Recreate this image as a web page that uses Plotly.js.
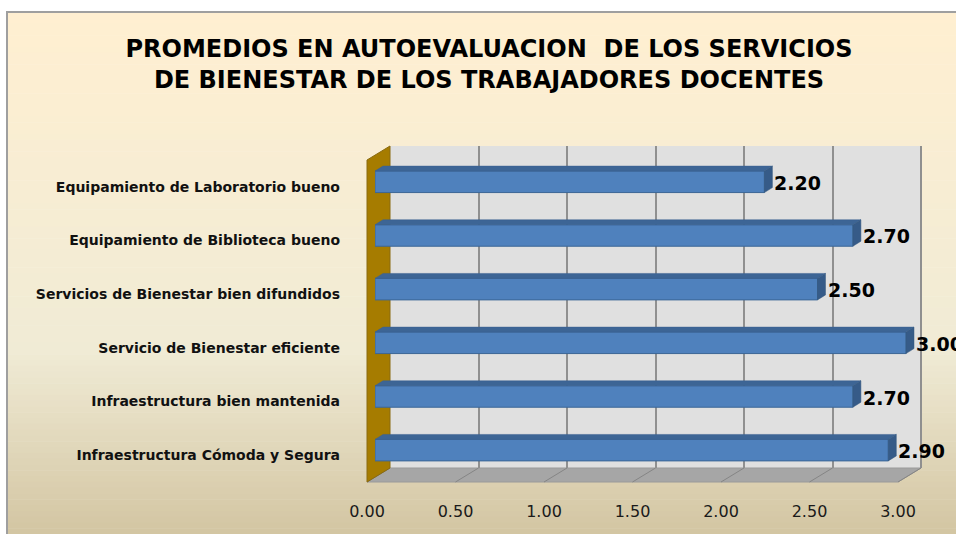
<!DOCTYPE html>
<html><head><meta charset="utf-8">
<script src="https://cdn.plot.ly/plotly-3.0.1.min.js"></script>
<style>html,body{margin:0;padding:0;background:#fff;}#chart{width:956px;height:534px;}</style>
</head><body><div id="chart"></div>
<script>
// ---- data (bottom to top) ----
const categories = [
  'Infraestructura Cómoda y Segura',
  'Infraestructura bien mantenida',
  'Servicio de Bienestar eficiente',
  'Servicios de Bienestar bien difundidos',
  'Equipamiento de Biblioteca bueno',
  'Equipamiento de Laboratorio bueno'
];
const values = [2.90, 2.70, 3.00, 2.50, 2.70, 2.20];
const xTicks = [0, 0.5, 1, 1.5, 2, 2.5, 3];
const titleText = 'PROMEDIOS EN AUTOEVALUACION \u00a0DE LOS SERVICIOS<br>DE BIENESTAR DE LOS TRABAJADORES DOCENTES';

// ---- layout geometry (pixels) ----
const W = 956, H = 534;
const XMAX = 3;
const px = v => v / W;
const py = v => 1 - v / H;
const back  = {x0: 390, x1: 921, yTop: 146, yBot: 468};
const bars  = {x0: 375, x1: 906, yTop: 155, yBot: 477};
const front = {x0: 367, x1: 898, yTop: 160, yBot: 482};
const pxPerUnit = (bars.x1 - bars.x0) / XMAX;
const XMAX2 = (W - bars.x0) / pxPerUnit;   // bar plane extended to page edge so 3D faces aren't clipped
const yRange = [-0.5, categories.length - 0.5];
const idx = categories.map((c, i) => i);
const barWidth = 0.40;
const depthX = 8 / pxPerUnit;
const depthY = 5 / ((bars.yBot - bars.yTop) / (yRange[1] - yRange[0]));

const shapes = [];
// background gradient (Parchment)
const stops = [[12, [255, 239, 209]], [352, [240, 235, 213]], [545, [209, 195, 159]]];
function colAt(y) {
  for (let k = 0; k < stops.length - 1; k++) {
    const [ya, ca] = stops[k], [yb, cb] = stops[k + 1];
    if (y <= yb) {
      const t = Math.max(0, (y - ya) / (yb - ya));
      return 'rgb(' + ca.map((c, j) => Math.round(c + (cb[j] - c) * t)).join(',') + ')';
    }
  }
  return 'rgb(209,195,159)';
}
const nb = 90;
for (let k = 0; k < nb; k++) {
  const ya = 12 + (H - 12) * k / nb, yb = 12 + (H - 12) * (k + 1) / nb + 0.6;
  shapes.push({type: 'rect', xref: 'paper', yref: 'paper', layer: 'below',
    x0: px(7), x1: 1.01, y0: py(yb), y1: py(ya),
    fillcolor: colAt((ya + yb) / 2), line: {width: 0}});
}
// border
shapes.push({type: 'path', xref: 'paper', yref: 'paper', layer: 'below',
  path: `M ${px(7)} ${py(H + 5)} L ${px(7)} ${py(12)} L ${px(W + 5)} ${py(12)}`,
  line: {color: '#9f9f9f', width: 2}});
// back wall
shapes.push({type: 'rect', xref: 'paper', yref: 'paper', layer: 'below',
  x0: px(back.x0), x1: px(back.x1), y0: py(back.yBot), y1: py(back.yTop),
  fillcolor: '#e0e0e0', line: {width: 0}});
// floor
shapes.push({type: 'path', xref: 'paper', yref: 'paper', layer: 'below',
  path: `M ${px(back.x0)} ${py(back.yBot)} L ${px(back.x1)} ${py(back.yBot)} L ${px(front.x1)} ${py(front.yBot)} L ${px(front.x0)} ${py(front.yBot)} Z`,
  fillcolor: '#a6a6a6', line: {color: '#9a9a9a', width: 1}});
// floor grid diagonals
xTicks.forEach(v => {
  const bx = back.x0 + v / XMAX * (back.x1 - back.x0);
  const fx = front.x0 + v / XMAX * (front.x1 - front.x0);
  shapes.push({type: 'line', xref: 'paper', yref: 'paper', layer: 'below',
    x0: px(bx), y0: py(back.yBot), x1: px(fx), y1: py(front.yBot),
    line: {color: '#858585', width: 1}});
});
// back wall right edge
shapes.push({type: 'line', xref: 'paper', yref: 'paper', layer: 'below',
  x0: px(back.x1), x1: px(back.x1), y0: py(back.yBot), y1: py(back.yTop),
  line: {color: '#8f8f8f', width: 2}});
// left wall
shapes.push({type: 'path', xref: 'paper', yref: 'paper', layer: 'below',
  path: `M ${px(front.x0)} ${py(front.yTop)} L ${px(back.x0)} ${py(back.yTop)} L ${px(back.x0)} ${py(back.yBot)} L ${px(front.x0)} ${py(front.yBot)} Z`,
  fillcolor: '#a67c00', line: {color: '#8a6a10', width: 1}});

// 3D faces of bars
values.forEach((v, i) => {
  const yt = i + barWidth / 2, yb = i - barWidth / 2;
  shapes.push({type: 'path', xref: 'x2', yref: 'y2', layer: 'above',
    path: `M 0 ${yt} L ${v} ${yt} L ${v + depthX} ${yt + depthY} L ${depthX} ${yt + depthY} Z`,
    fillcolor: '#3d6595', line: {color: '#3a6190', width: 0.5}});
  shapes.push({type: 'path', xref: 'x2', yref: 'y2', layer: 'above',
    path: `M ${v} ${yb} L ${v} ${yt} L ${v + depthX} ${yt + depthY} L ${v + depthX} ${yb + depthY} Z`,
    fillcolor: '#365b88', line: {color: '#34587f', width: 0.5}});
});

const annotations = values.map((v, i) => ({
  x: v, y: i, xref: 'x2', yref: 'y2', text: v.toFixed(2), showarrow: false,
  xanchor: 'left', yanchor: 'middle', xshift: 8, yshift: -1,
  font: {family: 'DejaVu Sans', size: 19, weight: 'bold', color: '#000'}
}));

const traces = [
  {type: 'scatter', x: [], y: [], xaxis: 'x', yaxis: 'y', hoverinfo: 'skip', showlegend: false},
  {type: 'bar', orientation: 'h', x: values, y: idx, xaxis: 'x2', yaxis: 'y2', width: barWidth,
   marker: {color: '#4f81bd', line: {color: '#3b6696', width: 1}}, hoverinfo: 'skip', showlegend: false},
  {type: 'scatter', x: [], y: [], xaxis: 'x3', yaxis: 'y3', hoverinfo: 'skip', showlegend: false}
];

const hidden = {showgrid: false, showticklabels: false, zeroline: false, showline: false, ticks: ''};
const layout = {
  width: W, height: H,
  margin: {l: 0, r: 0, t: 0, b: 0, pad: 0},
  paper_bgcolor: '#ffffff', plot_bgcolor: 'rgba(0,0,0,0)',
  showlegend: false,
  title: {text: titleText, x: px(489), xanchor: 'center', xref: 'paper',
    y: 1 - 57 / H, yanchor: 'middle', yref: 'container',
    font: {family: 'DejaVu Sans', size: 24, weight: 'bold', color: '#000'}},
  xaxis: Object.assign({}, hidden, {domain: [px(back.x0), px(back.x1)], range: [0, XMAX], anchor: 'y',
    showgrid: true, gridcolor: '#909090', gridwidth: 2, tickmode: 'array', tickvals: xTicks}),
  yaxis: Object.assign({}, hidden, {domain: [py(back.yBot), py(back.yTop)], range: yRange, anchor: 'x'}),
  xaxis2: Object.assign({}, hidden, {domain: [px(bars.x0), 1], range: [0, XMAX2], anchor: 'y2'}),
  yaxis2: Object.assign({}, hidden, {domain: [py(bars.yBot), py(bars.yTop)], range: yRange, anchor: 'x2'}),
  xaxis3: Object.assign({}, hidden, {domain: [px(front.x0), px(front.x1)], range: [0, XMAX], anchor: 'y3',
    showticklabels: true, tickmode: 'array', tickvals: xTicks, tickformat: '.2f', ticklabelstandoff: 18,
    tickfont: {family: 'DejaVu Sans', size: 16, color: '#1a1a1a'}}),
  yaxis3: Object.assign({}, hidden, {domain: [py(front.yBot), py(front.yTop)], range: yRange, anchor: 'x3',
    showticklabels: true, tickmode: 'array', tickvals: idx, ticktext: categories, ticklabelstandoff: 26,
    tickfont: {family: 'DejaVu Sans', size: 14, weight: 'bold', color: '#111'}}),
  shapes: shapes,
  annotations: annotations
};
Plotly.newPlot('chart', traces, layout, {displayModeBar: false, staticPlot: true});
</script>
</body></html>
